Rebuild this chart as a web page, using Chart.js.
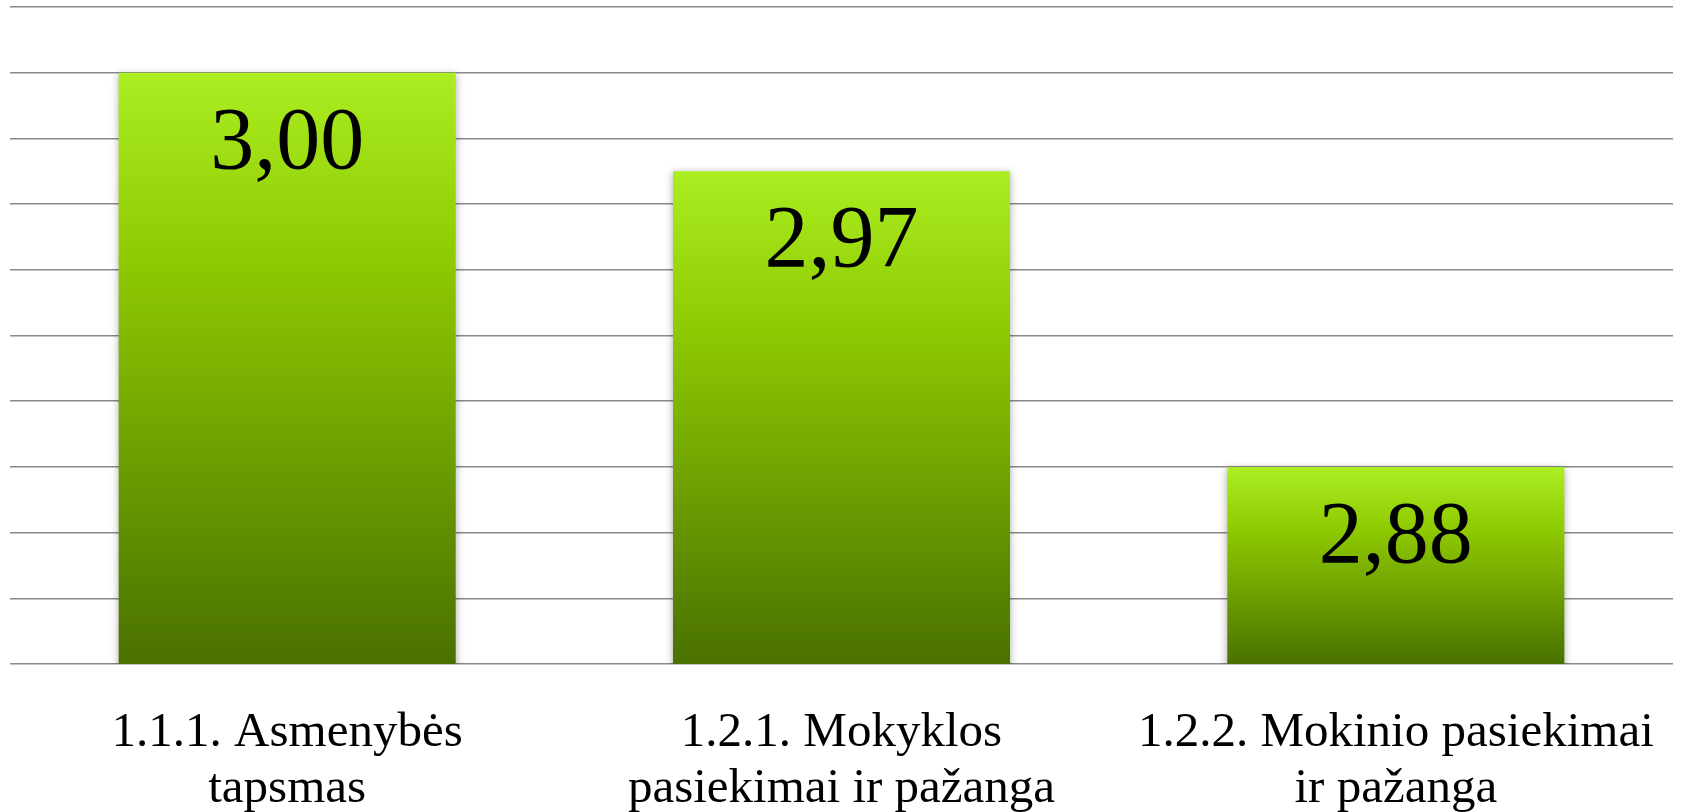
<!DOCTYPE html>
<html>
<head>
<meta charset="utf-8">
<script src="https://cdn.jsdelivr.net/npm/chart.js@4"></script>
<style>
    html, body { margin: 0; padding: 0; background: #fff; }
    #wrap { width: 1682px; height: 812px; }
</style>
</head>
<body>
<div id="wrap"><canvas id="chart" width="1682" height="812"></canvas></div>
<script>
const categories = [
    ['1.1.1. Asmenybės', 'tapsmas'],
    ['1.2.1. Mokyklos', 'pasiekimai ir pažanga'],
    ['1.2.2. Mokinio pasiekimai', 'ir pažanga']
];
const scores = [3.00, 2.97, 2.88];
const axisMin = 2.82;
const axisMax = 3.02;
const axisStep = 0.02;

const serif = '"Liberation Serif", "DejaVu Serif", serif';

// gradient for each bar, bright on top, dark olive at the base
function barGradient(context) {
    const chart = context.chart;
    const area = chart.chartArea;
    if (!area) return '#8ec900';
    const top = chart.scales.y.getPixelForValue(scores[context.dataIndex]);
    const g = chart.ctx.createLinearGradient(0, top, 0, area.bottom);
    g.addColorStop(0, '#abee22');
    g.addColorStop(0.3, '#90cc02');
    g.addColorStop(1, '#4a7100');
    return g;
}

// soft shadow under the bars + value labels on top
const barDecor = {
    id: 'barDecor',
    beforeDatasetsDraw(chart) {
        const ctx = chart.ctx;
        ctx.save();
        ctx.shadowColor = 'rgba(0,0,0,0.35)';
        ctx.shadowBlur = 8;
        ctx.shadowOffsetX = 0;
        ctx.shadowOffsetY = 2;
    },
    afterDatasetsDraw(chart) {
        const ctx = chart.ctx;
        ctx.restore();
        ctx.save();
        ctx.font = '88px ' + serif;
        ctx.fillStyle = '#000';
        ctx.textAlign = 'center';
        ctx.textBaseline = 'alphabetic';
        chart.getDatasetMeta(0).data.forEach((bar, i) => {
            const txt = scores[i].toFixed(2).replace('.', ',');
            ctx.fillText(txt, bar.x, bar.y + 95);
        });
        ctx.restore();
    }
};

new Chart(document.getElementById('chart'), {
    type: 'bar',
    data: {
        labels: categories,
        datasets: [{
            data: scores,
            backgroundColor: barGradient,
            borderWidth: 0,
            barPercentage: 0.608,
            categoryPercentage: 1
        }]
    },
    options: {
        responsive: false,
        animation: false,
        layout: { padding: { top: 7, left: 10, right: 9, bottom: 0 } },
        plugins: {
            legend: { display: false },
            tooltip: { enabled: false }
        },
        scales: {
            x: {
                grid: { display: false },
                border: { display: false },
                ticks: {
                    color: '#000',
                    padding: 33,
                    maxRotation: 0,
                    autoSkip: false,
                    font: { family: serif, size: 49, lineHeight: 1.15 }
                },
                afterFit: s => {
                    s.height = 148;
                    s.paddingLeft = 0;
                    s.paddingRight = 0;
                }
            },
            y: {
                min: axisMin,
                max: axisMax,
                border: { display: false },
                grid: { color: '#8a8a8a', lineWidth: 1.5, drawTicks: false },
                ticks: { display: false, stepSize: axisStep },
                afterFit: s => { s.width = 0; }
            }
        }
    },
    plugins: [barDecor]
});
</script>
</body>
</html>
